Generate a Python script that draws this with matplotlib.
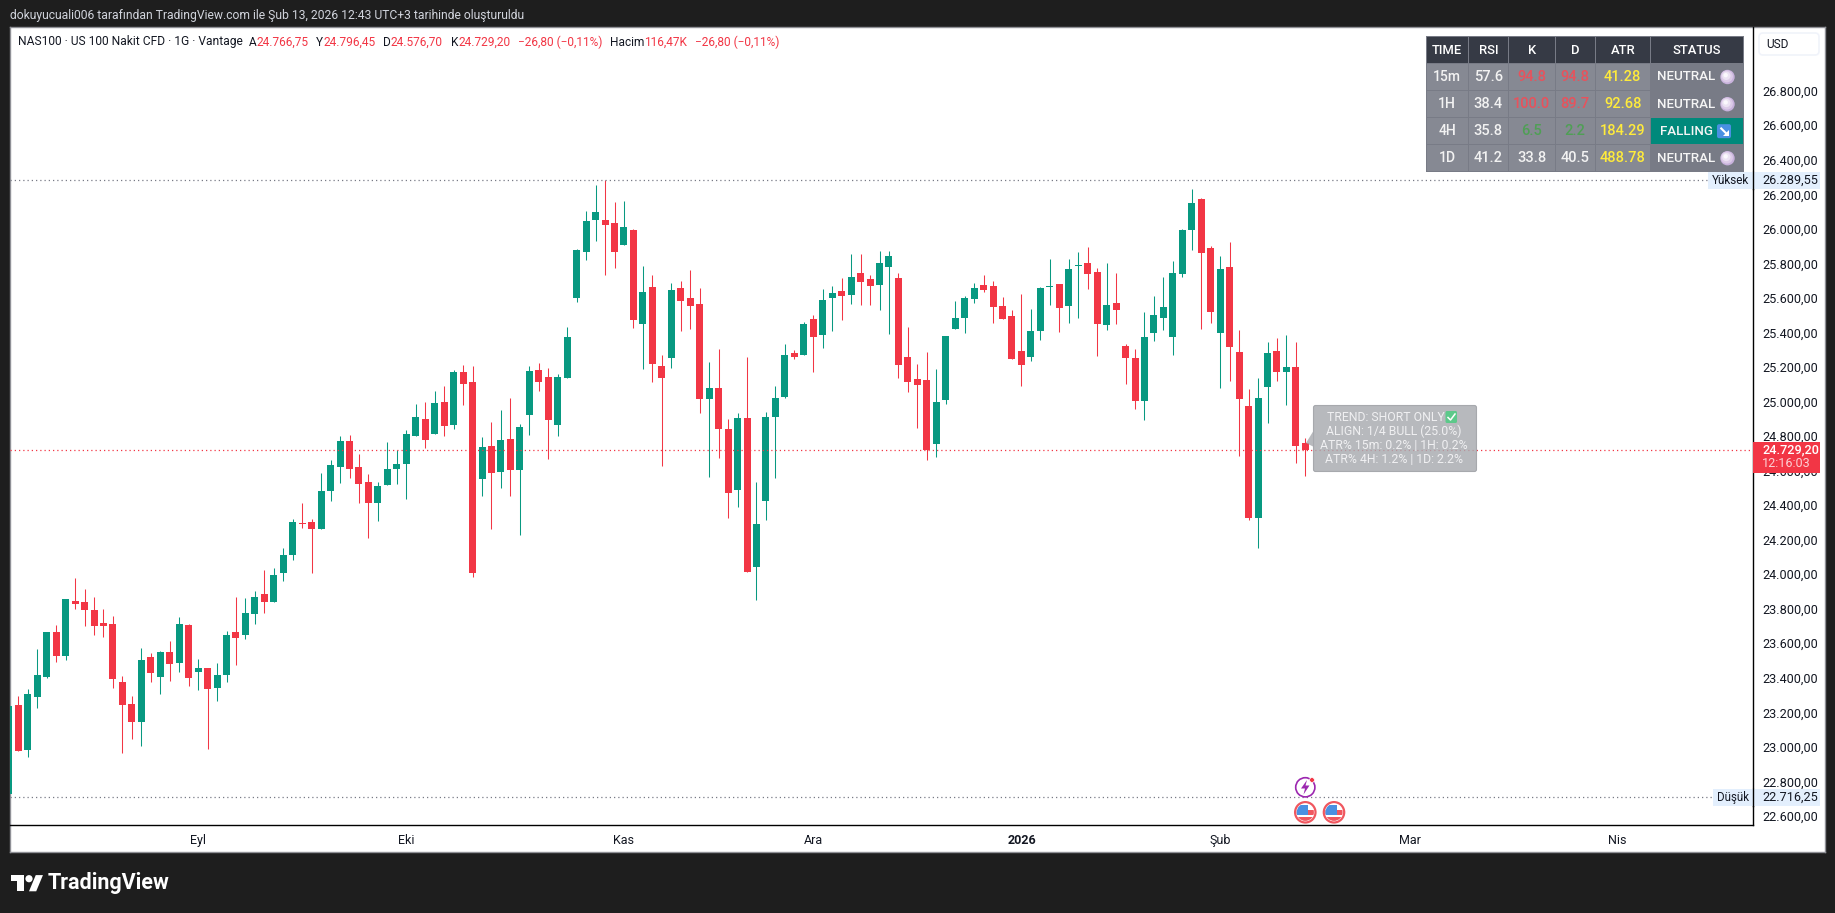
import matplotlib
matplotlib.use('Agg')
import matplotlib.pyplot as plt
from matplotlib.patches import Rectangle, Circle, Polygon, FancyBboxPatch
from matplotlib.transforms import ScaledTranslation
import numpy as np

plt.rcParams['font.family'] = ['Roboto', 'DejaVu Sans']

# Daily candles, NAS100
opens = [22736, 23251, 22990, 23297, 23413, 23673, 23535, 23853, 23847, 23801,
         23726, 23720, 23384, 23257, 23152, 23529, 23413, 23558, 23494, 23714,
         23442, 23465, 23349, 23425, 23673, 23656, 23778, 23894, 23847, 24015,
         24120, 24305, 24311, 24271, 24491, 24630, 24780, 24630, 24543, 24421,
         24525, 24618, 24647, 24809, 24908, 24821, 25006, 24873, 25180, 25122,
         24560, 24751, 24601, 24792, 24612, 24931, 25191, 25151, 24873, 25145,
         25608, 25874, 26060, 26060, 26042, 25915, 26002, 25457, 25672, 25214,
         25260, 25666, 25608, 25573, 25023, 25086, 24849, 24496, 24913, 24050,
         24432, 24919, 25034, 25289, 25278, 25486, 25394, 25608, 25649, 25626,
         25753, 25718, 25684, 25788, 25724, 25266, 25139, 25133, 24763, 25018,
         25429, 25492, 25602, 25683, 25678, 25562, 25504, 25301, 25267, 25417,
         25672, 25689, 25562, 25794, 25811, 25759, 25452, 25579, 25330, 25261,
         25012, 25406, 25492, 25382, 25747, 26002, 26181, 25897, 25405, 25787,
         25295, 24983, 24334, 25093, 25301, 25180, 25209, 24766.75]
highs = [23260, 23303, 23344, 23575, 23673, 23714, 23865, 23986, 23922, 23876,
         23807, 23766, 23419, 23303, 23581, 23552, 23564, 23621, 23760, 23720,
         23517, 23465, 23494, 23679, 23876, 23870, 23911, 24032, 24044, 24160,
         24329, 24421, 24329, 24595, 24670, 24809, 24815, 24705, 24589, 24543,
         24774, 24728, 24844, 24994, 25006, 25070, 25099, 25191, 25220, 25214,
         24803, 24890, 24960, 25029, 24879, 25214, 25232, 25203, 25168, 25440,
         25892, 26112, 26262, 26289.55, 26164, 26170, 26007, 25793, 25741, 25278,
         25695, 25706, 25770, 25666, 25237, 25312, 24907, 24942, 25266, 24542,
         24948, 25098, 25341, 25307, 25469, 25509, 25660, 25677, 25724, 25863,
         25863, 25742, 25880, 25880, 25753, 25440, 25225, 25295, 25197, 25388,
         25591, 25620, 25695, 25741, 25707, 25614, 25539, 25631, 25545, 25672,
         25834, 25689, 25834, 25875, 25904, 25782, 25811, 25753, 25342, 25313,
         25527, 25620, 25730, 25822, 26007, 26239, 26187, 25909, 25851, 25932,
         25423, 25081, 25145, 25353, 25377, 25394, 25353, 24796.45]
lows = [22716.25, 22985, 22950, 23233, 23407, 23500, 23511, 23807, 23708, 23656,
        23645, 23349, 22973, 23054, 23013, 23384, 23315, 23390, 23442, 23361,
        23338, 22996, 23274, 23384, 23482, 23633, 23720, 23783, 23847, 23969,
        24091, 24276, 24016, 24271, 24433, 24537, 24566, 24421, 24219, 24317,
        24525, 24531, 24444, 24809, 24740, 24821, 24809, 24850, 24989, 23993,
        24462, 24271, 24508, 24462, 24236, 24815, 25070, 24676, 24809, 25145,
        25585, 25828, 25938, 25741, 25782, 25915, 25434, 25197, 25122, 24635,
        25203, 25417, 25428, 24942, 24571, 24681, 24334, 24397, 24021, 23860,
        24322, 24565, 25029, 25254, 25278, 25179, 25318, 25417, 25481, 25574,
        25568, 25568, 25539, 25400, 25144, 25063, 24855, 24670, 24688, 24994,
        25429, 25406, 25579, 25643, 25463, 25487, 25255, 25099, 25243, 25365,
        25568, 25411, 25463, 25492, 25660, 25272, 25423, 25458, 25110, 24966,
        24902, 25359, 25423, 25278, 25729, 25886, 25428, 25463, 25087, 25128,
        24693, 24323, 24161, 24884, 25128, 24989, 24653, 24576.70]
closes = [23245, 22985, 23315, 23425, 23673, 23535, 23865, 23836, 23801, 23708,
          23708, 23401, 23251, 23152, 23511, 23436, 23558, 23488, 23720, 23407,
          23465, 23344, 23425, 23656, 23639, 23783, 23876, 23847, 24004, 24119,
          24311, 24300, 24271, 24491, 24641, 24780, 24618, 24531, 24421, 24520,
          24618, 24647, 24821, 24919, 24786, 25000, 24867, 25180, 25110, 24016,
          24745, 24595, 24786, 24612, 24861, 25185, 25122, 24902, 25151, 25382,
          25886, 26054, 26106, 26031, 25874, 26019, 25481, 25643, 25226, 25145,
          25654, 25591, 25562, 25023, 25086, 24849, 24479, 24913, 24021, 24299,
          24919, 25029, 25278, 25266, 25457, 25382, 25596, 25637, 25620, 25730,
          25701, 25678, 25811, 25852, 25220, 25121, 25104, 24727, 25006, 25388,
          25492, 25608, 25666, 25655, 25556, 25487, 25255, 25220, 25417, 25666,
          25678, 25550, 25776, 25799, 25747, 25458, 25568, 25539, 25261, 25012,
          25382, 25510, 25556, 25753, 26002, 26158, 25868, 25527, 25776, 25324,
          25023, 24334, 25029, 25290, 25180, 25209, 24751, 24729.20]

high_price = 26289.55
low_price = 22716.25
last_price = 24729.20

price_ticks = [22600, 22800, 23000, 23200, 23400, 23600, 23800, 24000, 24200, 24400, 24600,
               24800, 25000, 25200, 25400, 25600, 25800, 26000, 26200, 26400, 26600, 26800]
price_labels = ['22.600,00', '22.800,00', '23.000,00', '23.200,00', '23.400,00', '23.600,00',
                '23.800,00', '24.000,00', '24.200,00', '24.400,00', '24.600,00', '24.800,00',
                '25.000,00', '25.200,00', '25.400,00', '25.600,00', '25.800,00', '26.000,00',
                '26.200,00', '26.400,00', '26.600,00', '26.800,00']
month_ticks = [20, 42, 65, 85, 107, 128, 148, 170]
month_labels = ['Eyl', 'Eki', 'Kas', 'Ara', '2026', 'Şub', 'Mar', 'Nis']

table_header = ['TIME', 'RSI', 'K', 'D', 'ATR', 'STATUS']
table_time = ['15m', '1H', '4H', '1D']
table_rsi = ['57.6', '38.4', '35.8', '41.2']
table_k = ['94.8', '100.0', '6.5', '33.8']
table_d = ['94.8', '89.7', '2.2', '40.5']
table_atr = ['41.28', '92.68', '184.29', '488.78']
table_status = ['NEUTRAL', 'NEUTRAL', 'FALLING', 'NEUTRAL']
table_k_colors = ['#e8525c', '#e8525c', '#4f9f55', '#f2f2f2']
table_d_colors = ['#e8525c', '#e8525c', '#4f9f55', '#f2f2f2']

info_lines = ['TREND: SHORT ONLY', 'ALIGN: 1/4 BULL (25.0%)',
              'ATR% 15m: 0.2% | 1H: 0.2%', 'ATR% 4H: 1.2% | 1D: 2.2%']

UP = '#089981'
DOWN = '#f23645'
INK = '#131722'
W, H = 1835, 913

fig = plt.figure(figsize=(W / 100, H / 100), dpi=100, facecolor='#1e1e1e')


def frac(x0, y0, x1, y1):
    return [x0 / W, 1 - y1 / H, (x1 - x0) / W, (y1 - y0) / H]


# White chart area with its thin border
bg = fig.add_axes(frac(10, 27, 1825, 852))
bg.set_xticks([])
bg.set_yticks([])
for s in bg.spines.values():
    s.set_color('#8f9096')
    s.set_linewidth(1)

# Price pane
ax = fig.add_axes(frac(10, 27, 1753, 825.3), zorder=2)
ax.set_facecolor('none')
x = np.arange(len(closes))
o = np.array(opens)
c = np.array(closes)
colors = [UP if b >= a else DOWN for a, b in zip(opens, closes)]
ax.vlines(x, lows, highs, colors=colors, linewidth=0.75, zorder=2)
body = np.maximum(np.abs(c - o), 6)
ax.bar(x, body, bottom=np.minimum(o, c), width=0.74, color=colors, linewidth=0, zorder=3)

ax.set_xlim(0.1226, 184.3)
ax.set_ylim(22554.1, 27177.4)
ax.yaxis.tick_right()
ax.set_yticks(price_ticks)
ax.set_yticklabels(price_labels)
ax.set_xticks(month_ticks)
ax.set_xticklabels(month_labels)
ax.get_xticklabels()[4].set_fontweight('bold')
ax.tick_params(axis='y', length=0, pad=6.5, labelsize=9.05, labelcolor=INK)
ax.tick_params(axis='x', length=0, pad=6.5, labelsize=9.0, labelcolor=INK)
# nudge the price labels up a little
for t in ax.get_yticklabels():
    t.set_transform(t.get_transform() + ScaledTranslation(0, 1.5 / 100, fig.dpi_scale_trans))
for s in ['top', 'left']:
    ax.spines[s].set_visible(False)
for s in ['right', 'bottom']:
    ax.spines[s].set_color('black')
    ax.spines[s].set_linewidth(1)

# High, low and last price lines
yt = ax.get_yaxis_transform()
ax.plot([0, 0.974], [high_price, high_price], transform=yt, color='#787b86', lw=0.9,
        linestyle=(0, (1, 2.4)), zorder=4)
ax.plot([0, 0.977], [low_price, low_price], transform=yt, color='#787b86', lw=0.9,
        linestyle=(0, (1, 2.4)), zorder=4)
ax.plot([0, 1], [last_price, last_price], transform=yt, color=DOWN, lw=0.9,
        linestyle=(0, (1, 2.4)), zorder=4)

# Everything below is laid out in figure pixels
ov = fig.add_axes([0, 0, 1, 1], zorder=5)
ov.set_xlim(0, W)
ov.set_ylim(H, 0)
ov.axis('off')
ov.patch.set_alpha(0)


def label(px, py, s, color=INK, size=9.2, ha='left', weight='normal', **kw):
    return ov.text(px, py, s, color=color, fontsize=size, ha=ha, va='center', fontweight=weight, **kw)


def box(x0, y0, x1, y1, color, **kw):
    ov.add_patch(Rectangle((x0, y0), x1 - x0, y1 - y0, facecolor=color, edgecolor='none', **kw))


# Header and footer
label(10, 15, 'dokuyucuali006 tarafından TradingView.com ile Şub 13, 2026 12:43 UTC+3 tarihinde oluşturuldu',
      color='#d1d4dc', size=8.75)


def logo(px, py, s):
    pts = [[(14, 22), (7, 22), (7, 11), (0, 11), (0, 4), (14, 4)],
           [(28, 22), (20, 22), (27.5, 4), (35.5, 4)]]
    for p in pts:
        ov.add_patch(Polygon([(px + a * s, py + b * s) for a, b in p], facecolor='white', edgecolor='none'))
    ov.add_patch(Circle((px + 20 * s, py + 8 * s), 4 * s, facecolor='white', edgecolor='none'))


logo(11, 871.5, 0.9)
label(48, 883, 'TradingView', color='white', size=15.5, weight='bold')

# Symbol and OHLC line
label(18, 42, 'NAS100 · US 100 Nakit CFD · 1G · Vantage', size=8.65)
for px, s in [(249, 'A'), (316, 'Y'), (383, 'D'), (450.5, 'K'), (610, 'Hacim')]:
    label(px, 42, s, size=8.6)
for px, s in [(256.6, '24.766,75'), (323, '24.796,45'), (390, '24.576,70'), (458, '24.729,20'),
              (518, '−26,80 (−0,11%)'), (644, '116,47K'), (695, '−26,80 (−0,11%)')]:
    label(px, 42, s, color=DOWN, size=8.6)

# Currency button
ov.add_patch(FancyBboxPatch((1759, 33), 60, 22, boxstyle='round,pad=0,rounding_size=4',
                            facecolor='white', edgecolor='#f0f3fa', linewidth=1.2))
label(1766, 44.5, 'USD', size=8.6)

# High and low tags
box(1708, 172, 1820, 189, '#e3effd')
ov.plot([1753, 1753], [172, 189], color='black', lw=1)
label(1712, 180, 'Yüksek', size=8.5)
label(1762, 180, '26.289,55', size=9.05)
box(1713, 789, 1820, 805.7, '#e3effd')
ov.plot([1753, 1753], [789, 805.7], color='black', lw=1)
label(1717, 797, 'Düşük', size=8.3)
label(1762, 797, '22.716,25', size=9.05)

# Last price tag
box(1753, 442, 1820, 472.7, DOWN)
label(1762, 450, '24.729,20', color='white', size=9.05, weight='medium')
label(1762, 463.5, '12:16:03', color='#fcd0d4', size=9.05)

# Status table
col_edges = [1426, 1468.3, 1508.3, 1555.3, 1595.3, 1650.3, 1743.7]
row_edges = [36, 63.3, 90.7, 117.7, 144.7, 171.7]
box(col_edges[0], row_edges[0], col_edges[-1], row_edges[-1], '#787b86')
for j, name in enumerate(table_header):
    box(col_edges[j] + 0.5, row_edges[0] + 1, col_edges[j + 1] - 0.5, row_edges[1] - 0.5, '#363a45')
    label((col_edges[j] + col_edges[j + 1]) / 2, (row_edges[0] + row_edges[1]) / 2 + 0.5, name,
          color='white', size=9.4, ha='center', weight='medium')
for r in range(4):
    cy = (row_edges[r + 1] + row_edges[r + 2]) / 2
    for j in range(5):
        box(col_edges[j] + 0.5, row_edges[r + 1] + 0.5, col_edges[j + 1] - 0.5, row_edges[r + 2] - 0.5, '#868993')
    cx = [(col_edges[j] + col_edges[j + 1]) / 2 for j in range(6)]
    label(cx[0], cy, table_time[r], color='#f2f2f2', size=10, ha='center', weight='medium')
    label(cx[1], cy, table_rsi[r], color='#f2f2f2', size=10.5, ha='center', weight='medium')
    label(cx[2], cy, table_k[r], color=table_k_colors[r], size=10.5, ha='center', weight='medium')
    label(cx[3], cy, table_d[r], color=table_d_colors[r], size=10.5, ha='center', weight='medium')
    label(cx[4], cy, table_atr[r], color='#ffeb3b', size=10.5, ha='center', weight='medium')
    if table_status[r] == 'FALLING':
        box(col_edges[5] + 1, row_edges[r + 1] + 0.5, col_edges[6] - 0.5, row_edges[r + 2] - 0.5, '#00897b')
        label(1660, cy, table_status[r], color='#f5f5f5', size=9.6, weight='medium')
        ov.add_patch(FancyBboxPatch((1717, cy - 7), 14, 14, boxstyle='round,pad=0,rounding_size=2',
                                    facecolor='#4a90e2', edgecolor='none'))
        # white down-right arrow
        ov.plot([1720.5, 1726.5], [cy - 3.5, cy + 2.5], color='white', lw=1.5, solid_capstyle='butt')
        ov.add_patch(Polygon([(1728.5, cy - 1), (1728.5, cy + 4.5), (1723, cy + 4.5)], facecolor='white', edgecolor='none'))
    else:
        label(1657, cy, table_status[r], color='#f5f5f5', size=9.6, weight='medium')
        # small shaded purple orb
        for rad, col, dx in [(7.2, '#c8b2dc', 0), (6, '#dccbe8', -0.6), (4.2, '#ece3f3', -1.2), (2.2, '#fbf9fd', -1.8)]:
            ov.add_patch(Circle((1727.5 + dx, cy + dx), rad, facecolor=col, edgecolor='none'))

# Info bubble next to the last candle
bubble = FancyBboxPatch((1313.5, 405.5), 163, 66, boxstyle='round,pad=0,rounding_size=2',
                        facecolor='#a8aaaf', edgecolor='#9c9ea3', linewidth=0.8, alpha=0.82)
ov.add_patch(bubble)
ov.add_patch(Polygon([(1314, 430), (1306, 443), (1314, 447)], facecolor='#a8aaaf', edgecolor='none', alpha=0.82))
for k, s in enumerate(info_lines):
    px = 1385.5 if k == 0 else 1394
    label(px, 417.5 + 14 * k, s, color='#f0f0f2', size=8.8, ha='center')
ov.add_patch(FancyBboxPatch((1445.5, 411), 11.5, 12, boxstyle='round,pad=0,rounding_size=1.5',
                            facecolor='#5cc98a', edgecolor='none'))
ov.plot([1448, 1450.5, 1455], [417.5, 420, 414], color='white', lw=1.1)

# Event markers under the last candles
ov.add_patch(Circle((1305.3, 787.3), 9.6, facecolor='white', edgecolor='#9c27b0', linewidth=1.2))
ov.add_patch(Polygon([(1307, 780), (1301, 788.5), (1305, 788.5), (1303.5, 794.5), (1309.5, 785.5), (1305.5, 785.5)],
                     facecolor='#9c27b0', edgecolor='none'))
ov.add_patch(Circle((1312, 780), 2.4, facecolor=DOWN, edgecolor='white', linewidth=0.5))


def flag_marker(cx, cy):
    ring = Circle((cx, cy), 10.2, facecolor='white', edgecolor='#f0575f', linewidth=1.6)
    ov.add_patch(ring)
    clip = Circle((cx, cy), 8.6, transform=ov.transData)
    parts = [Rectangle((cx - 9, cy - 9), 18, 2.5, facecolor='white'),
             Rectangle((cx - 9, cy - 2), 18, 4.5, facecolor='#f0575f'),
             Rectangle((cx - 9, cy + 5), 18, 3.5, facecolor='#f0575f'),
             Rectangle((cx - 9, cy - 7), 12, 9.5, facecolor='#4a90e2')]
    for p in parts:
        p.set_edgecolor('none')
        ov.add_patch(p)
        p.set_clip_path(clip)


flag_marker(1305.3, 812.3)
flag_marker(1334, 812.3)

fig.savefig('out.png', dpi=100, facecolor=fig.get_facecolor())
